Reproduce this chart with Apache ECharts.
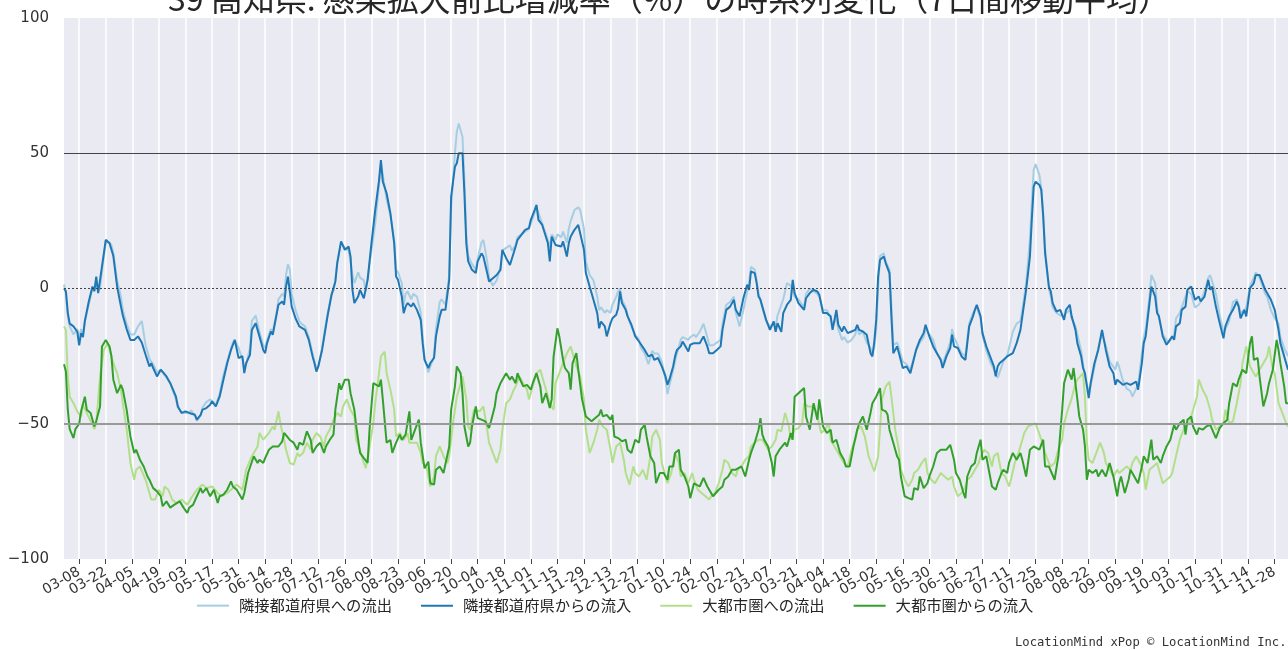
<!DOCTYPE html>
<html>
<head>
<meta charset="utf-8">
<script src="https://cdn.jsdelivr.net/npm/echarts@6/dist/echarts.min.js"></script>
<style>
  html, body { margin: 0; padding: 0; background: #fff; }
  #chart { width: 1288px; height: 650px; }
</style>
</head>
<body>
<div id="chart"></div>
<script>
// 日付カテゴリ（2020-02-29 から 646 日分）
const startDate = new Date(2020, 1, 29)
const dayCount = 646
const labelStart = 8   // 03-08
const labelStep = 14

const seriesNames = ['隣接都道府県への流出', '隣接都道府県からの流入', '大都市圏への流出', '大都市圏からの流入']
const seriesColors = ['#a6cee3', '#1f78b4', '#b2df8a', '#33a02c']
const refLines = [50, 0, -50]

// [日付インデックス, 増減率]
const neighborOut = [
  [0,1.5],[1,-2],[2,-10],[3,-14],[5,-17],[7,-15],[8,-18],[9,-15],[10,-17],[11,-12],[13,-6],[15,0],[16,-1],[17,3],[18,-1],[19,0],[21,12],[22,17],[24,17],[25,16],[26,13],[28,3],[30,-3],[31,-8],[33,-13],[35,-17],[37,-17],[39,-14],[41,-12],[43,-21],[45,-26],[46,-27],[47,-28],[49,-31],[51,-30],[52,-31],[54,-33],[56,-35],[59,-41],[60,-44],[62,-46],[64,-46],[66,-46],[67,-45],[69,-47],[70,-49],[72,-47],[73,-44],[75,-42],[77,-41],[78,-41],[80,-43],[82,-39],[84,-32],[86,-27],[88,-22],[89,-20],[90,-19],[92,-22],[94,-26],[95,-29],[96,-28],[98,-22],[99,-12],[101,-10],[103,-16],[105,-21],
  [106,-22],[107,-19],[109,-15],[110,-16],[112,-9],[113,-4],[115,-2],[116,-3],[117,5],[118,9],[119,7],[120,-2],[122,-8],[124,-12],[125,-13],[127,-14],[129,-18],[131,-24],[132,-27],[133,-30],[134,-29],[136,-22],[138,-13],[139,-9],[141,-2],[142,-1],[143,3],[144,10],[146,17],[147,17],[148,15],[150,14],[151,10],[152,5],[153,2],[155,6],[156,4],[158,3],[159,-1],[160,4],[162,14],[164,24],[166,38],[167,46],[168,42],[170,33],[172,27],[174,18],[175,7],[176,6],[178,2],[179,-6],[180,-2],[181,-1],[183,-4],[184,-2],[186,-3],[188,-9],[189,-18],[190,-26],[192,-31],[193,-29],[195,-25],[196,-15],[198,-5],[199,-4],[201,-6],[203,5],[204,30],[206,50],[207,58],[208,61],[210,56],[211,40],[212,20],[213,12],
  [214,12],[215,9],[217,7],[218,11],[220,17],[221,18],[223,10],[224,4],[226,1],[228,3],[230,8],[231,14],[233,15],[235,16],[236,14],[238,16],[239,19],[241,20],[243,21],[245,22],[246,24],[248,28],[249,30],[250,28],[252,24],[253,22],[255,18],[256,15],[257,20],[259,18],[260,20],[262,19],[263,21],[265,17],[266,22],[267,25],[269,29],[271,30],[272,29],[274,22],[275,10],[277,5],[278,4],[279,3],[281,-3],[282,-8],[283,-7],[285,-9],[286,-8],[288,-9],[289,-6],[291,-3],[292,-1],[293,0],[294,-4],[296,-7],[297,-10],[299,-14],[301,-17],[303,-19],[304,-22],[306,-24],[308,-28],[310,-23],[311,-24],[313,-24],[315,-27],[317,-34],[318,-39],[319,-36],[321,-30],
  [322,-27],[323,-24],[325,-19],[326,-18],[327,-18],[329,-19],[330,-18],[332,-17],[333,-18],[335,-16],[337,-13],[339,-18],[340,-21],[342,-21],[344,-20],[346,-19],[347,-13],[349,-6],[351,-5],[353,-3],[354,-9],[356,-14],[358,-8],[360,-1],[361,2],[362,8],[364,7],[365,3],[366,-2],[367,-4],[368,-7],[370,-12],[371,-13],[372,-14],[374,-13],[375,-14],[376,-10],[378,-6],[379,-4],[381,2],[383,1],[384,-1],[385,-3],[387,-4],[388,-5],[390,-7],[391,-2],[393,0],[395,-1],[397,-2],[398,-3],[400,-8],[402,-8],[404,-11],[405,-14],[407,-11],[408,-15],[410,-19],[411,-18],[413,-20],[415,-19],[417,-17],[418,-14],[419,-17],[421,-16],[423,-20],[425,-22],[426,-24],[427,-22],[428,-15],[429,0],
  [430,12],[432,13],[433,10],[435,7],[436,-6],[437,-21],[439,-20],[440,-22],[442,-27],[444,-28],[446,-30],[447,-30],[449,-23],[451,-20],[453,-18],[454,-15],[456,-17],[458,-19],[460,-24],[462,-26],[463,-28],[465,-24],[467,-20],[468,-15],[469,-18],[471,-21],[473,-24],[475,-25],[477,-13],[479,-9],[480,-8],[481,-7],[483,-11],[484,-17],[486,-23],[488,-27],[490,-30],[491,-32],[492,-33],[493,-31],[495,-27],[497,-25],[498,-22],[500,-16],[502,-13],[504,-12],[505,-8],[507,2],[509,18],[510,32],[511,44],[512,46],[514,42],[515,37],[516,28],[517,15],[519,0],[520,-3],[521,-7],[523,-9],[525,-10],[527,-10],[528,-9],[530,-8],[531,-11],[533,-14],[534,-17],[536,-23],
  [537,-28],[538,-33],[540,-38],[541,-36],[543,-29],[545,-22],[547,-17],[548,-17],[549,-21],[551,-27],[553,-29],[554,-30],[555,-27],[556,-29],[558,-34],[560,-37],[562,-38],[563,-40],[565,-37],[566,-36],[568,-24],[569,-18],[570,-15],[572,-3],[573,5],[575,2],[576,-7],[577,-11],[579,-17],[581,-19],[582,-20],[584,-18],[585,-17],[586,-11],[588,-9],[589,-7],[591,-3],[592,-1],[594,-2],[596,-7],[598,-6],[599,-5],[601,-1],[603,4],[604,5],[605,5],[607,-2],[609,-10],[611,-16],[612,-15],[614,-12],[616,-5],[618,-4],[619,-6],[620,-9],[622,-8],[623,-7],[625,1],[627,4],[628,6],[630,4],[631,2],[633,-2],[634,-3],[636,-8],[638,-11],[640,-13],[641,-18],[643,-22],[645,-25]
]

const neighborIn = [
  [0,0],[1,-1],[2,-9],[3,-13],[5,-14],[7,-16],[8,-21],[9,-16.5],[10,-18],[11,-12],[13,-5],[15,0.7],[16,-1],[17,4.4],[18,-1.7],[19,-1],[21,13],[22,18],[24,16.7],[25,17.4],[26,12],[28,0.7],[30,-6.6],[31,-10],[33,-15],[35,-19],[37,-19],[39,-17.7],[41,-20],[43,-24.5],[45,-28.8],[46,-27.6],[47,-29.4],[49,-32.5],[51,-30],[52,-30.7],[54,-32.5],[56,-35],[59,-40],[60,-43.6],[62,-46],[64,-45.4],[66,-46],[67,-45.4],[69,-46.7],[70,-48.5],[72,-46.7],[73,-44.8],[75,-44.2],[77,-43],[78,-41.7],[80,-43.6],[82,-40],[84,-33.7],[86,-27.6],[88,-22.7],[89,-20.8],[90,-19],[92,-25.7],[94,-25],[95,-31.3],[96,-27.6],[98,-24.5],[99,-15.3],[101,-12.8],[103,-17.7],[105,-22.7],
  [106,-23.9],[107,-20.2],[109,-15.9],[110,-17.1],[112,-9.7],[113,-6],[115,-4.8],[116,-6],[117,0.7],[118,4.4],[119,3.8],[120,-6.7],[122,-11],[124,-14],[125,-14.7],[127,-15.3],[129,-19],[131,-25.1],[132,-27.6],[133,-30.7],[134,-28.8],[136,-22.7],[138,-14],[139,-9.7],[141,-2.3],[142,-1.7],[143,2.6],[144,9.4],[146,17.4],[147,16.7],[148,14.3],[150,15.5],[151,11.8],[152,-0.5],[153,-5.4],[155,-3],[156,-0.5],[158,-3.6],[159,-4.2],[160,3.2],[162,16.7],[164,29],[166,40],[167,47.5],[168,39.5],[170,35.2],[172,27.8],[174,16.7],[175,4.4],[176,3.2],[178,-3],[179,-9.1],[180,-6.7],[181,-5.4],[183,-6.7],[184,-5.4],[186,-7.9],[188,-11.6],[189,-20.2],[190,-26.4],[192,-29.4],[193,-27.6],[195,-25.7],[196,-17.7],[198,-10.3],[199,-7.9],[201,-7.9],[203,3.2],[204,34],[206,45],[207,46.3],[208,50],[210,50],[211,35.2],[212,16.7],[213,10],
  [214,10.6],[215,6.9],[217,5.7],[218,10],[220,13],[221,11.8],[223,5.7],[224,2.6],[226,3.8],[228,5],[230,6.9],[231,14.3],[233,11.2],[235,8.7],[236,8.1],[238,15.5],[239,18],[241,19.8],[243,21.7],[245,22.3],[246,25.4],[248,29],[249,30.9],[250,25.4],[252,23.5],[253,22.9],[255,16.7],[256,10],[257,19.2],[259,16.1],[260,16.7],[262,15.5],[263,17.4],[265,11.8],[266,16.7],[267,19.2],[269,21.7],[271,23.5],[272,23.5],[274,14.3],[275,5.7],[277,0.7],[278,-1.7],[279,-1.1],[281,-9.1],[282,-14.7],[283,-12.2],[285,-14],[286,-17.7],[288,-12.8],[289,-11],[291,-9.7],[292,-7.3],[293,-1.1],[294,-5.4],[296,-7.9],[297,-10.3],[299,-13.4],[301,-17.7],[303,-19.6],[304,-20.2],[306,-22.7],[308,-25.1],[310,-24.5],[311,-26.4],[313,-25.7],[315,-28.8],[317,-32.5],[318,-35.6],[319,-33.7],[321,-28.8],
  [322,-25.1],[323,-22.7],[325,-21.4],[326,-19.6],[327,-20.8],[329,-23.3],[330,-20.8],[332,-20.2],[333,-20.2],[335,-20.2],[337,-17.7],[339,-21.4],[340,-23.9],[342,-23.9],[344,-22.7],[346,-21.4],[347,-15.3],[349,-7.9],[351,-6.7],[353,-4.2],[354,-7.9],[356,-10.3],[358,-3.6],[360,1.4],[361,-0.5],[362,6.3],[364,5.7],[365,2],[366,-3],[367,-4.2],[368,-6.7],[370,-11.6],[371,-12.2],[372,-15.3],[374,-12.2],[375,-16],[376,-12.8],[378,-16],[379,-9.1],[381,-6],[383,-4.2],[384,3.2],[385,-1.7],[387,-5.4],[388,-6],[390,-7.9],[391,-3.6],[393,-1.7],[395,-0.5],[397,-1.1],[398,-2.3],[400,-9.1],[402,-9.1],[404,-10.3],[405,-15.3],[407,-7.9],[408,-13.4],[410,-15.9],[411,-14],[413,-16.5],[415,-15.9],[417,-15.3],[418,-13.4],[419,-15.3],[421,-15.9],[423,-17.1],[425,-23.9],[426,-25.1],[427,-19.6],[428,-11.6],[429,4.4],
  [430,10.6],[432,11.8],[433,9.4],[435,5.7],[436,-10.3],[437,-23.9],[439,-21.4],[440,-23.9],[442,-29.4],[444,-28.8],[446,-31.3],[447,-31.3],[449,-22.7],[451,-19],[453,-16.5],[454,-13.4],[456,-17.7],[458,-21.4],[460,-23.9],[462,-26.4],[463,-29.4],[465,-25.1],[467,-22],[468,-17.1],[469,-21.4],[471,-22],[473,-25.1],[475,-26.4],[477,-14],[479,-10.3],[480,-7.9],[481,-6],[483,-10.3],[484,-16.5],[486,-21.4],[488,-25.1],[490,-28.8],[491,-32.5],[492,-28.8],[493,-27.6],[495,-26.4],[497,-25.1],[498,-24.5],[500,-23.9],[502,-20.2],[504,-15.3],[505,-10.3],[507,-0.5],[509,11.8],[510,25.4],[511,37.7],[512,39.5],[514,38.3],[515,36.5],[516,26.6],[517,13],[519,0.7],[520,-1.1],[521,-5.4],[523,-8.5],[525,-7.9],[527,-11.6],[528,-7.9],[530,-6],[531,-10.3],[533,-15.3],[534,-20.2],[536,-25.1],
  [537,-29.4],[538,-31.3],[540,-40.5],[541,-35],[543,-27.6],[545,-22.7],[547,-15.3],[548,-19],[549,-22.7],[551,-28.8],[553,-31.3],[554,-35.6],[555,-33.7],[556,-33.7],[558,-35.6],[560,-35],[562,-35.6],[563,-35.6],[565,-34.4],[566,-37.4],[568,-27.6],[569,-20.2],[570,-17.7],[572,-5.4],[573,0.7],[575,-3],[576,-9.1],[577,-10.3],[579,-17.7],[581,-20.8],[582,-21.4],[584,-17.7],[585,-19],[586,-14],[588,-12.8],[589,-7.9],[591,-6.7],[592,-0.5],[594,0.7],[596,-4.2],[598,-3],[599,-4.8],[601,-3],[603,3.2],[604,-0.5],[605,0.7],[607,-6.7],[609,-12.8],[611,-18.4],[612,-14],[614,-10.3],[616,-7.9],[618,-4.8],[619,-6.7],[620,-11],[622,-7.9],[623,-10.3],[625,0.1],[627,2],[628,5],[630,5],[631,3.2],[633,-0.5],[634,-1.1],[636,-4.2],[638,-7.9],[640,-15.3],[641,-20.2],[643,-25.1],[645,-30]
]

const metroOut = [
  [0,-14],[1,-15.3],[2,-32.5],[3,-40],[5,-42.4],[7,-45.4],[9,-47.3],[10,-43],[12,-46],[14,-49],[16,-52],[17,-49.8],[19,-32.5],[21,-22.7],[23,-20.2],[24,-22.7],[26,-27.6],[28,-31.3],[30,-37.4],[31,-42.4],[33,-52],[35,-64.5],[37,-70.7],[38,-67],[40,-65.8],[43,-70.7],[45,-75.6],[46,-78],[48,-78],[50,-74.4],[52,-76.8],[53,-73.2],[55,-74.4],[57,-78],[59,-79.3],[62,-78],[65,-80],[67,-77.5],[70,-74.4],[73,-72.5],[75,-73.8],[78,-73.2],[81,-75.6],[83,-76.8],[86,-75.6],[88,-74.4],[91,-72.5],[94,-74.4],[96,-67],[99,-62],[102,-58.4],[103,-53.4],[105,-55.9],
  [106,-56.5],[108,-53.4],[110,-51],[111,-52.2],[113,-45.4],[114,-49.8],[116,-56],[117,-59.6],[119,-64.5],[121,-65.1],[123,-60.8],[124,-62],[126,-60.8],[128,-57],[130,-59.6],[131,-56],[133,-53.4],[135,-54.7],[137,-58.4],[138,-54.7],[140,-52.2],[142,-48.5],[144,-46],[146,-47.3],[147,-43.6],[149,-41],[151,-44.8],[153,-47.3],[154,-56],[156,-59.6],[158,-64.5],[159,-66.4],[161,-58.4],[163,-49.8],[164,-42.4],[166,-31.3],[167,-25.1],[169,-23.3],[170,-31.3],[172,-37.4],[174,-44.8],[175,-54.7],[177,-53.4],[179,-56],[181,-53.4],[182,-57],[184,-57],[186,-57],[188,-60.8],[189,-64.5],[191,-65.8],[193,-73.2],[195,-69.5],[196,-62],[198,-58.4],[200,-62],[202,-64.5],[203,-62],[205,-49.8],[207,-40],[209,-35],[210,-32.5],[212,-41],[213,-51],
  [214,-52.2],[216,-44.8],[217,-44.2],[219,-45.4],[221,-43.6],[223,-52.2],[224,-57],[226,-60.8],[228,-64.5],[230,-59.6],[231,-52.2],[233,-42.4],[235,-41],[237,-37.4],[238,-36.2],[240,-32.5],[242,-35],[244,-37.4],[245,-41],[247,-36.2],[249,-31.3],[251,-30],[252,-32.5],[254,-37.4],[256,-42.4],[258,-44.8],[259,-35],[261,-31.3],[263,-27.6],[265,-23.9],[267,-21.4],[268,-23.9],[270,-28.8],[272,-32.5],[274,-41],[275,-52.2],[277,-60.8],[279,-57],[281,-52.2],[282,-48.5],[284,-51],[286,-52.2],[288,-59.6],[289,-64.5],[291,-58.4],[293,-57],[295,-63.3],[296,-68.2],[298,-72.5],[300,-65.8],[301,-68.2],[303,-69.5],[305,-67],[307,-70.7],[309,-62],[310,-54.7],[312,-52.2],[314,-55.9],[315,-64.5],[317,-69.5],[318,-72],[320,-68.2],
  [322,-60.8],[324,-64.5],[325,-69.5],[327,-68.2],[329,-72],[331,-68.2],[332,-70.7],[334,-74.4],[336,-75.6],[338,-76.8],[340,-78],[341,-76.8],[343,-75.6],[345,-72],[347,-67],[348,-63.3],[350,-64.5],[352,-68.2],[354,-69.5],[355,-67],[357,-65.8],[359,-63.3],[361,-62],[362,-58.4],[364,-57],[366,-55.9],[368,-55.9],[369,-57],[371,-59.6],[373,-58.4],[375,-55.9],[376,-52.2],[378,-52.8],[380,-46],[382,-51],[383,-55.9],[385,-52.2],[387,-51.6],[389,-49.8],[390,-42.4],[392,-43.6],[394,-43.6],[396,-44.8],[397,-47.3],[399,-53.4],[401,-52.2],[403,-49.8],[404,-55.9],[406,-58.4],[408,-60.8],[410,-63.3],[411,-64.5],[413,-65.8],[415,-59.6],[417,-55.9],[418,-52.2],[420,-51],[422,-54.7],[424,-62],[426,-65.8],[427,-67.6],[429,-62],
  [430,-52.2],[431,-41],[433,-36.2],[435,-34.4],[436,-40],[438,-52.2],[440,-59.6],[441,-67],[443,-70.7],[445,-73.2],[447,-70.7],[448,-68.2],[450,-67],[452,-64.5],[454,-62.7],[455,-68.2],[457,-70.7],[459,-72],[461,-69.5],[462,-68.2],[464,-69.5],[466,-70.7],[468,-69.5],[469,-73.2],[471,-76.8],[473,-75.6],[475,-73.2],[476,-70.7],[478,-69.5],[480,-67],[482,-64.5],[483,-62],[485,-59.6],[487,-60.8],[489,-65.8],[490,-62],[492,-60.8],[494,-68.2],[496,-69.5],[498,-73.2],[499,-70.7],[501,-64.5],[503,-60.8],[505,-55.9],[506,-53.4],[508,-51],[510,-50.4],[512,-49.8],[513,-49.1],[515,-55.9],[517,-60.8],[519,-64.5],[520,-65.8],[522,-64.5],[524,-59.6],[526,-55.9],[527,-50],[529,-44.8],[531,-40.6],[533,-35],[534,-33.7],
  [537,-31.3],[538,-40],[539,-57],[540,-63.3],[542,-64.5],[544,-60.8],[546,-57],[548,-60.8],[549,-64.5],[551,-67],[553,-69.5],[555,-67],[556,-68.2],[558,-67],[560,-65.8],[562,-67],[563,-64.5],[565,-62],[567,-64.5],[569,-68.2],[570,-74.4],[572,-67],[574,-65.8],[576,-64.5],[577,-67],[579,-72],[581,-70.7],[583,-69.5],[584,-68.2],[586,-62],[588,-55.9],[590,-52.2],[591,-51],[593,-49.8],[595,-44.8],[597,-40],[598,-33.7],[600,-37.4],[602,-40],[604,-44.8],[605,-48.5],[607,-52.2],[609,-51],[611,-49.8],[612,-44.8],[614,-49.8],[616,-49.1],[618,-42.4],[620,-35],[621,-27.6],[623,-21.4],[625,-28.8],[627,-31.3],[628,-32.5],[630,-30],[632,-27.6],[634,-25.1],[635,-21.4],[637,-30],[638,-31.3],[640,-42.4],[642,-46],[644,-49.8],[645,-51]
]

const metroIn = [
  [0,-28],[1,-30.7],[2,-44.8],[3,-52],[5,-55.3],[6,-52],[8,-50],[9,-45.4],[11,-40],[12,-44.8],[14,-46],[16,-51],[17,-49],[19,-43.6],[20,-21.4],[22,-19],[24,-21.4],[25,-25],[26,-33.7],[28,-38.7],[30,-35.6],[31,-37.4],[33,-44.8],[35,-54.7],[37,-60.8],[38,-59.6],[40,-63.3],[42,-65.8],[44,-69.5],[45,-70.7],[47,-73.8],[49,-75],[51,-76.8],[52,-80.5],[54,-78.7],[56,-81],[58,-80],[59,-80.5],[61,-78.7],[63,-81],[65,-83],[66,-81],[68,-80],[70,-76.8],[72,-73.8],[73,-75.6],[75,-73.8],[77,-76.8],[79,-74.4],[81,-79.3],[82,-76.8],[84,-76.2],[86,-74.4],[88,-71.3],[89,-73.2],[91,-74.4],[94,-78],[95,-75.6],[97,-68.2],[100,-62],[102,-64.5],[103,-63.3],[105,-64.5],
  [106,-62.7],[108,-59.6],[110,-58.4],[111,-57.8],[113,-58.4],[115,-56.5],[116,-53.4],[117,-54],[119,-56],[121,-57],[123,-59.6],[124,-57],[126,-57.8],[128,-52.8],[130,-56],[131,-60.8],[133,-58.4],[135,-57],[137,-60.8],[138,-58.4],[140,-56],[142,-54],[143,-44.8],[145,-35],[146,-37.4],[148,-33.7],[150,-33.7],[151,-38.7],[153,-44.8],[154,-51],[156,-60.8],[158,-62.7],[160,-64.5],[161,-52.2],[163,-35],[164,-34.4],[166,-36.2],[167,-33.7],[168,-41],[170,-57],[172,-56],[173,-60.8],[175,-57],[177,-54],[178,-56],[180,-54],[182,-45.4],[183,-56],[185,-52.2],[187,-48.5],[188,-57],[190,-66.5],[192,-64],[193,-72],[195,-72.5],[196,-67],[198,-65.8],[200,-68.2],[201,-68.8],[203,-58.4],[204,-44.8],[206,-36.2],[207,-28.8],[209,-31.3],[210,-38.7],[211,-51],[213,-58.4],
  [214,-57],[215,-51],[217,-43.6],[218,-47.9],[220,-48.5],[222,-49.1],[224,-51.6],[225,-49.1],[227,-43.6],[228,-38.7],[230,-35],[232,-32.5],[233,-31.3],[235,-33.7],[236,-32.5],[238,-35],[239,-31.3],[240,-33.1],[242,-36.2],[244,-35.6],[246,-37.4],[247,-35],[249,-31.3],[251,-36.2],[252,-42.4],[254,-38.7],[256,-44.2],[257,-41],[258,-25.1],[260,-14.7],[261,-17.7],[263,-26.4],[264,-29.4],[266,-31.3],[267,-37.4],[268,-27.6],[270,-23.9],[271,-30],[273,-41],[275,-47.3],[276,-47.3],[278,-49.1],[280,-47.9],[282,-46.7],[283,-44.8],[284,-47.3],[286,-46.7],[288,-48.5],[289,-46.7],[290,-54.7],[292,-55.3],[294,-56.5],[296,-55.9],[297,-59.6],[299,-60.8],[301,-55.9],[303,-57],[304,-52.2],[306,-50.4],[307,-54.7],[309,-62],[311,-64.5],[312,-72],[314,-68.2],[316,-68.2],[318,-70.7],[319,-65.8],[321,-65.8],
  [322,-60.8],[324,-59.6],[325,-67],[327,-69.5],[329,-73.2],[330,-77.5],[332,-72],[333,-71.3],[335,-73.2],[337,-70],[339,-73.2],[340,-72.5],[342,-76.8],[343,-76.8],[345,-74.4],[347,-73.2],[348,-70.7],[350,-69.5],[352,-67],[354,-67],[355,-67.6],[357,-65.8],[359,-69.5],[361,-63.3],[362,-60.8],[364,-57],[366,-52.2],[367,-47.9],[368,-54],[369,-55.9],[371,-58.4],[373,-64.5],[374,-69.5],[375,-62],[377,-59.6],[378,-59.6],[380,-57],[381,-58.4],[383,-53.4],[384,-55.9],[385,-40],[387,-38.7],[388,-39.3],[390,-36.8],[391,-47.3],[393,-52.2],[395,-42.4],[397,-48.5],[398,-41],[400,-51],[402,-53.4],[404,-52.2],[405,-57],[407,-55.9],[409,-60.8],[411,-63.3],[412,-65.8],[414,-65.8],[416,-58.4],[418,-52.2],[419,-50],[421,-47.3],[423,-52.2],[425,-46],[426,-42.4],[428,-40],
  [430,-36.8],[431,-44.8],[433,-45.4],[434,-46.7],[435,-52.2],[437,-57],[439,-62],[440,-63.3],[441,-69.5],[443,-76.8],[445,-77.5],[447,-78],[448,-73.8],[450,-74.4],[451,-69.5],[453,-73.8],[455,-72],[456,-69.5],[458,-65.8],[460,-60.8],[462,-59.6],[463,-60.2],[465,-59.6],[467,-57.8],[469,-63.3],[470,-68.2],[472,-70.7],[474,-75.6],[475,-77.5],[476,-69.5],[478,-65.8],[480,-64.5],[481,-60.8],[483,-55.9],[484,-63.3],[486,-62],[488,-69.5],[489,-73.2],[491,-74.4],[492,-72],[494,-68.2],[495,-67],[497,-68.2],[498,-64.5],[500,-60.8],[502,-63.3],[504,-60.8],[505,-63.3],[507,-69.5],[509,-59.6],[511,-58.4],[512,-58.4],[514,-59.6],[516,-55.9],[517,-65.8],[519,-65.8],[520,-66.4],[522,-70.7],[524,-62],[526,-44.8],[527,-35],[529,-30],[531,-33.7],[532,-29.4],[534,-41],[535,-47.3],
  [537,-52.2],[538,-58.4],[539,-70.7],[540,-67],[542,-68.2],[544,-67],[545,-69.5],[547,-67],[549,-69.5],[551,-64.5],[553,-69.5],[555,-76.8],[556,-72],[557,-69.5],[559,-75.6],[561,-70.7],[562,-67],[564,-69.5],[566,-72],[568,-65.8],[569,-62],[571,-64.5],[573,-55.9],[574,-63.3],[576,-62],[578,-64.5],[579,-62],[581,-58.4],[583,-55.9],[585,-50.4],[586,-52.2],[588,-49.8],[590,-48.5],[591,-54],[592,-48.5],[594,-47.3],[595,-51],[597,-54],[598,-51.6],[600,-52.2],[602,-51],[604,-50.4],[605,-49.8],[607,-55.3],[609,-51.6],[611,-49.8],[613,-48.5],[614,-42.4],[616,-35],[618,-36.2],[619,-33.7],[621,-30],[623,-31.3],[625,-20.2],[626,-17.7],[627,-26.4],[629,-25.7],[630,-32.5],[632,-43.6],[634,-38.7],[635,-35],[637,-30],[639,-19],[640,-22.7],[641,-27.6],[643,-36.2],[644,-42.4],[645,-42.4]
]

const dates = []
for (let i = 0; i < dayCount; i++) {
  const d = new Date(startDate.getTime())
  d.setDate(d.getDate() + i)
  const mm = String(d.getMonth() + 1).padStart(2, '0')
  const dd = String(d.getDate()).padStart(2, '0')
  dates.push(mm + '-' + dd)
}
const showTick = function (index) {
  return index >= labelStart && (index - labelStart) % labelStep === 0
}
// 端の空ラベルを先頭・末尾に置いて、本物の端ラベルが隠されないようにする
const showLabel = function (index) {
  return index === 0 || index === dayCount - 1 || showTick(index)
}

let myChart = echarts.init(document.getElementById('chart'), null, { renderer: 'canvas' })
let option = {
  animation: false,
  backgroundColor: '#ffffff',
  title: {
    text: '39 高知県: 感染拡大前比増減率（%）の時系列変化（7日間移動平均）',
    left: 163,
    top: -22,
    textStyle: {
      fontFamily: 'Noto Sans CJK JP',
      fontSize: 32,
      fontWeight: 'normal',
      color: '#262626'
    }
  },
  legend: {
    data: seriesNames,
    icon: 'rect',
    left: 192,
    top: 593,
    itemWidth: 32,
    itemHeight: 2,
    itemGap: 29,
    textStyle: {
      fontFamily: 'Noto Sans CJK JP',
      fontSize: 15.3,
      color: '#262626',
      padding: [0, 0, 0, 5]
    }
  },
  grid: {
    left: 64,
    right: 0,
    top: 18,
    bottom: 91,
    show: true,
    backgroundColor: '#eaeaf2',
    borderWidth: 0
  },
  xAxis: [
    {
      type: 'category',
      position: 'bottom',
      data: dates,
      boundaryGap: false,
      axisLine: { show: false },
      axisTick: { show: false },
      axisLabel: {
        interval: showLabel,
        showMinLabel: false,
        showMaxLabel: false,
        rotate: 30,
        margin: 12,
        color: '#333',
        fontSize: 14,
        fontFamily: 'DejaVu Sans',
        formatter: function (value, index) {
          return showTick(index) ? value : ''
        }
      },
      splitLine: {
        show: true,
        interval: showTick,
        lineStyle: { color: '#ffffff', width: 1.5 }
      }
    },
    {
      type: 'category',
      position: 'bottom',
      offset: 0,
      data: dates,
      boundaryGap: false,
      axisLine: { show: false },
      axisLabel: { show: false },
      splitLine: { show: false },
      axisTick: {
        show: true,
        interval: showTick,
        length: 5,
        lineStyle: { color: '#444', width: 1 }
      }
    }
  ],
  yAxis: {
    type: 'value',
    min: -100,
    max: 100,
    interval: 50,
    axisLine: { show: false },
    axisTick: { show: false },
    splitLine: { show: false },
    axisLabel: {
      margin: 15,
      color: '#333',
      fontSize: 15,
      fontFamily: 'DejaVu Sans',
      formatter: function (v) { return String(v).replace('-', '\u2212') }
    }
  },
  graphic: [{
    type: 'text',
    left: 1015,
    top: 637,
    style: {
      text: 'LocationMind xPop © LocationMind Inc.',
      font: '12.2px "DejaVu Sans Mono"',
      fill: '#333'
    }
  }],
  series: [
    {
      name: seriesNames[0],
      type: 'line',
      data: neighborOut,
      symbol: 'none',
      lineStyle: { width: 2, color: seriesColors[0] },
      itemStyle: { color: seriesColors[0] },
      z: 2,
      markLine: {
        silent: true,
        symbol: 'none',
        label: { show: false },
        data: [
          { yAxis: refLines[0], lineStyle: { color: '#444', width: 1, type: 'solid' } },
          { yAxis: refLines[1], lineStyle: { color: '#444', width: 1, type: [2, 2] } },
          { yAxis: refLines[2], lineStyle: { color: '#999', width: 2, type: 'solid' } }
        ]
      }
    },
    {
      name: seriesNames[1],
      type: 'line',
      data: neighborIn,
      symbol: 'none',
      lineStyle: { width: 2, color: seriesColors[1] },
      itemStyle: { color: seriesColors[1] },
      z: 4
    },
    {
      name: seriesNames[2],
      type: 'line',
      data: metroOut,
      symbol: 'none',
      lineStyle: { width: 2, color: seriesColors[2] },
      itemStyle: { color: seriesColors[2] },
      z: 2
    },
    {
      name: seriesNames[3],
      type: 'line',
      data: metroIn,
      symbol: 'none',
      lineStyle: { width: 2, color: seriesColors[3] },
      itemStyle: { color: seriesColors[3] },
      z: 3
    }
  ]
}
myChart.setOption(option)
window.addEventListener('resize', function () {
  myChart.resize()
})
</script>
</body>
</html>
